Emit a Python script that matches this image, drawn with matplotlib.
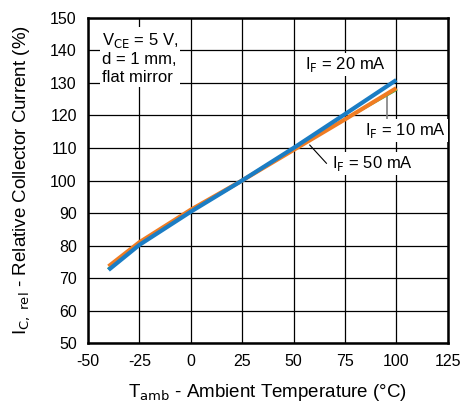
import numpy as np
import matplotlib.pyplot as plt

plt.rcParams['font.family'] = ['Liberation Sans', 'DejaVu Sans']
plt.rcParams['axes.unicode_minus'] = False

# temperature points (°C) and relative collector current (%)
temp = [-40, -25, 0, 25, 50, 75, 100]
ic_10ma = [73.0, 80.6, 90.8, 100.0, 109.6, 118.8, 127.8]
ic_20ma = [72.5, 80.2, 90.4, 100.0, 110.0, 120.4, 130.9]
ic_50ma = [73.6, 81.0, 91.0, 100.0, 109.4, 118.8, 128.4]

xticks = [-50, -25, 0, 25, 50, 75, 100, 125]
yticks = [50, 60, 70, 80, 90, 100, 110, 120, 130, 140, 150]

fig = plt.figure(figsize=(4.63, 4.07), dpi=100)
ax = fig.add_axes([0.190, 0.157, 0.777, 0.799])

ax.plot(temp, ic_10ma, color='#3cb043', lw=1.5, zorder=3)
ax.plot(temp, ic_50ma, color='#f07c22', lw=3, zorder=4, solid_capstyle='butt')
ax.plot(temp, ic_20ma, color='#1b7dc4', lw=3, zorder=5, solid_capstyle='butt')

ax.set_xlim(-50, 125)
ax.set_ylim(50, 150)
ax.set_xticks(xticks)
ax.set_yticks(yticks)
ax.tick_params(length=0, labelsize=11.5, pad=8, colors='black')
ax.grid(True, color='black', lw=0.9)
ax.set_axisbelow(True)
for s in ax.spines.values():
    s.set_linewidth(1.8)

ax.set_xlabel(r'T$_{\mathrm{amb}}$ - Ambient Temperature (°C)', fontsize=13.5, labelpad=9)
ax.set_ylabel(r'I$_{\mathrm{C,\ rel}}$ - Relative Collector Current (%)', fontsize=13.5, labelpad=13)

box = dict(facecolor='white', edgecolor='none', pad=1.5)
ax.text(-43.3, 146.0, 'V$_{\\mathrm{CE}}$ = 5 V,\nd = 1 mm,\nflat mirror', fontsize=12,
        va='top', ha='left', bbox=box, linespacing=1.2, zorder=6)
ax.text(55.5, 135.6, 'I$_{\\mathrm{F}}$ = 20 mA', fontsize=12, ha='left', va='center', bbox=box, zorder=6)

ax.plot([95.4, 95.4], [126.3, 118.6], color='#808080', lw=1.2, zorder=2)
ax.text(84.7, 115.3, 'I$_{\\mathrm{F}}$ = 10 mA', fontsize=12, ha='left', va='center', bbox=box, zorder=6)

ax.plot([57.9, 66.0], [110.9, 105.3], color='black', lw=0.8, zorder=6)
ax.text(68.5, 105.2, 'I$_{\\mathrm{F}}$ = 50 mA', fontsize=12, ha='left', va='center', bbox=box, zorder=6)

fig.savefig('out.png', dpi=100)
